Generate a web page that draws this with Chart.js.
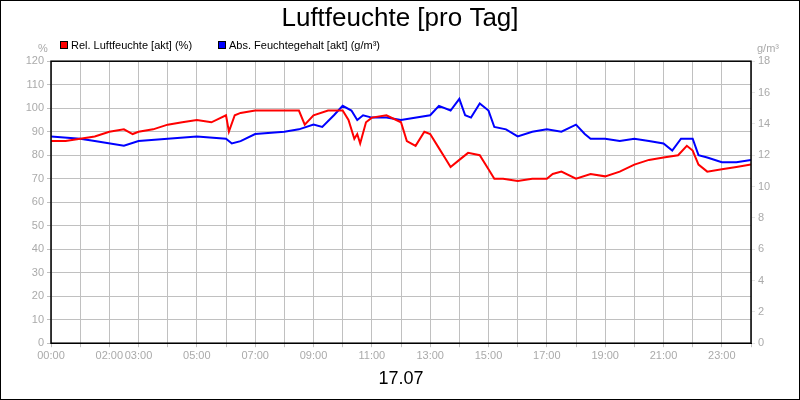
<!DOCTYPE html>
<html><head><meta charset="utf-8">
<script src="https://cdn.jsdelivr.net/npm/chart.js@4/dist/chart.umd.min.js"></script>
<style>html,body{margin:0;padding:0;background:#fff}#w{width:798px;height:398px;border:1px solid #000}</style>
</head><body><div id="w"><canvas id="c" width="798" height="398"></canvas></div>
<script>
const relHours=[0,0.5,1,1.5,2,2.5,2.8,3,3.5,4,4.5,5,5.5,6,6.1,6.3,6.5,7,8,8.5,8.7,9,9.5,10,10.2,10.4,10.5,10.6,10.8,11,11.5,12,12.2,12.5,12.8,13,13.3,13.5,13.7,14,14.3,14.7,15,15.2,15.5,16,16.5,17,17.2,17.5,18,18.5,19,19.5,20,20.5,21,21.5,21.8,22,22.2,22.5,23,23.5,24];
const relValues=[86,86,87,88,90,91,89,90,91,93,94,95,94,97,90,97,98,99,99,99,93,97,99,99,95,87,89,85,94,96,97,94,86,84,90,89,83,79,75,78,81,80,74,70,70,69,70,70,72,73,70,72,71,73,76,78,79,80,84,82,76,73,74,75,76];
const absHours=[0,1,1.5,2.5,3,4,5,6,6.2,6.5,7,8,8.5,9,9.3,9.7,10,10.3,10.5,10.7,11,11.5,12,13,13.3,13.7,14,14.2,14.4,14.7,15,15.2,15.6,16,16.5,17,17.5,18,18.3,18.5,19,19.5,20,20.5,21,21.3,21.6,22,22.2,22.5,23,23.5,24];
const absValues=[13.2,13.05,12.9,12.6,12.9,13.05,13.2,13.05,12.75,12.9,13.35,13.5,13.65,13.95,13.8,14.55,15.15,14.85,14.25,14.55,14.4,14.4,14.25,14.55,15.15,14.85,15.6,14.55,14.4,15.3,14.85,13.8,13.65,13.2,13.5,13.65,13.5,13.95,13.35,13.05,13.05,12.9,13.05,12.9,12.75,12.3,13.05,13.05,12.0,11.85,11.55,11.55,11.7];
const labeledHours=[0,2,3,5,7,9,11,13,15,17,19,21,23];
const dateLabel='17.07';
const F='"Liberation Sans", Arial, sans-serif';
const extras={id:'extras',afterDraw(ch){const c=ch.ctx;c.save();c.font='11px '+F;c.fillStyle='#aaa';c.textAlign='center';c.textBaseline='alphabetic';c.fillText('%',42,51);c.fillText('g/m³',767,51);
c.textAlign='left';let x=59;ch.data.datasets.forEach(d=>{c.fillStyle=d.borderColor;c.fillRect(x,40,8,8);c.strokeStyle='#000';c.lineWidth=1;c.strokeRect(x+0.5,40.5,7,7);c.fillStyle='#000';c.fillText(d.label,x+11,48);x+=158;});
const a=ch.chartArea;c.strokeStyle='#000';c.lineWidth=1.5;c.strokeRect(a.left,a.top,a.right-a.left,a.bottom-a.top);c.restore();}};
new Chart(document.getElementById('c'),{type:'line',
data:{datasets:[
{label:'Rel. Luftfeuchte [akt] (%)',data:relHours.map((h,i)=>({x:h,y:relValues[i]})),borderColor:'#ff0000',backgroundColor:'#ff0000',borderWidth:2,pointRadius:0,tension:0,yAxisID:'y'},
{label:'Abs. Feuchtegehalt [akt] (g/m³)',data:absHours.map((h,i)=>({x:h,y:absValues[i]})),borderColor:'#0000ff',backgroundColor:'#0000ff',borderWidth:2,pointRadius:0,tension:0,yAxisID:'y1'}]},
options:{responsive:false,animation:false,
layout:{padding:{left:0,right:0,top:0,bottom:9}},
plugins:{title:{display:true,text:'Luftfeuchte [pro Tag]',font:{family:F,size:26,weight:'normal'},color:'#000',padding:{top:2,bottom:27}},
legend:{display:false},tooltip:{enabled:false}},
scales:{
x:{type:'linear',min:0,max:24,afterBuildTicks(ax){ax.ticks=[];for(let h=0;h<=24;h++)ax.ticks.push({value:h});},
ticks:{autoSkip:false,maxRotation:0,color:'#aaa',font:{family:F,size:11},padding:2,callback:v=>labeledHours.includes(v)?String(v).padStart(2,'0')+':00':''},
grid:{color:'#c0c0c0',drawTicks:true,tickLength:4},border:{color:'#000'},
title:{display:true,text:dateLabel,font:{family:F,size:18},color:'#000',padding:{top:4,bottom:0}}},
y:{position:'left',min:0,max:120,ticks:{stepSize:10,color:'#aaa',font:{family:F,size:11}},grid:{color:'#c0c0c0',tickLength:4},afterFit(s){s.width=50;}},
y1:{position:'right',min:0,max:18,ticks:{stepSize:2,color:'#aaa',font:{family:F,size:11}},grid:{drawOnChartArea:false,tickLength:4},afterFit(s){s.width=48;}}
}},plugins:[extras]});
</script></body></html>
